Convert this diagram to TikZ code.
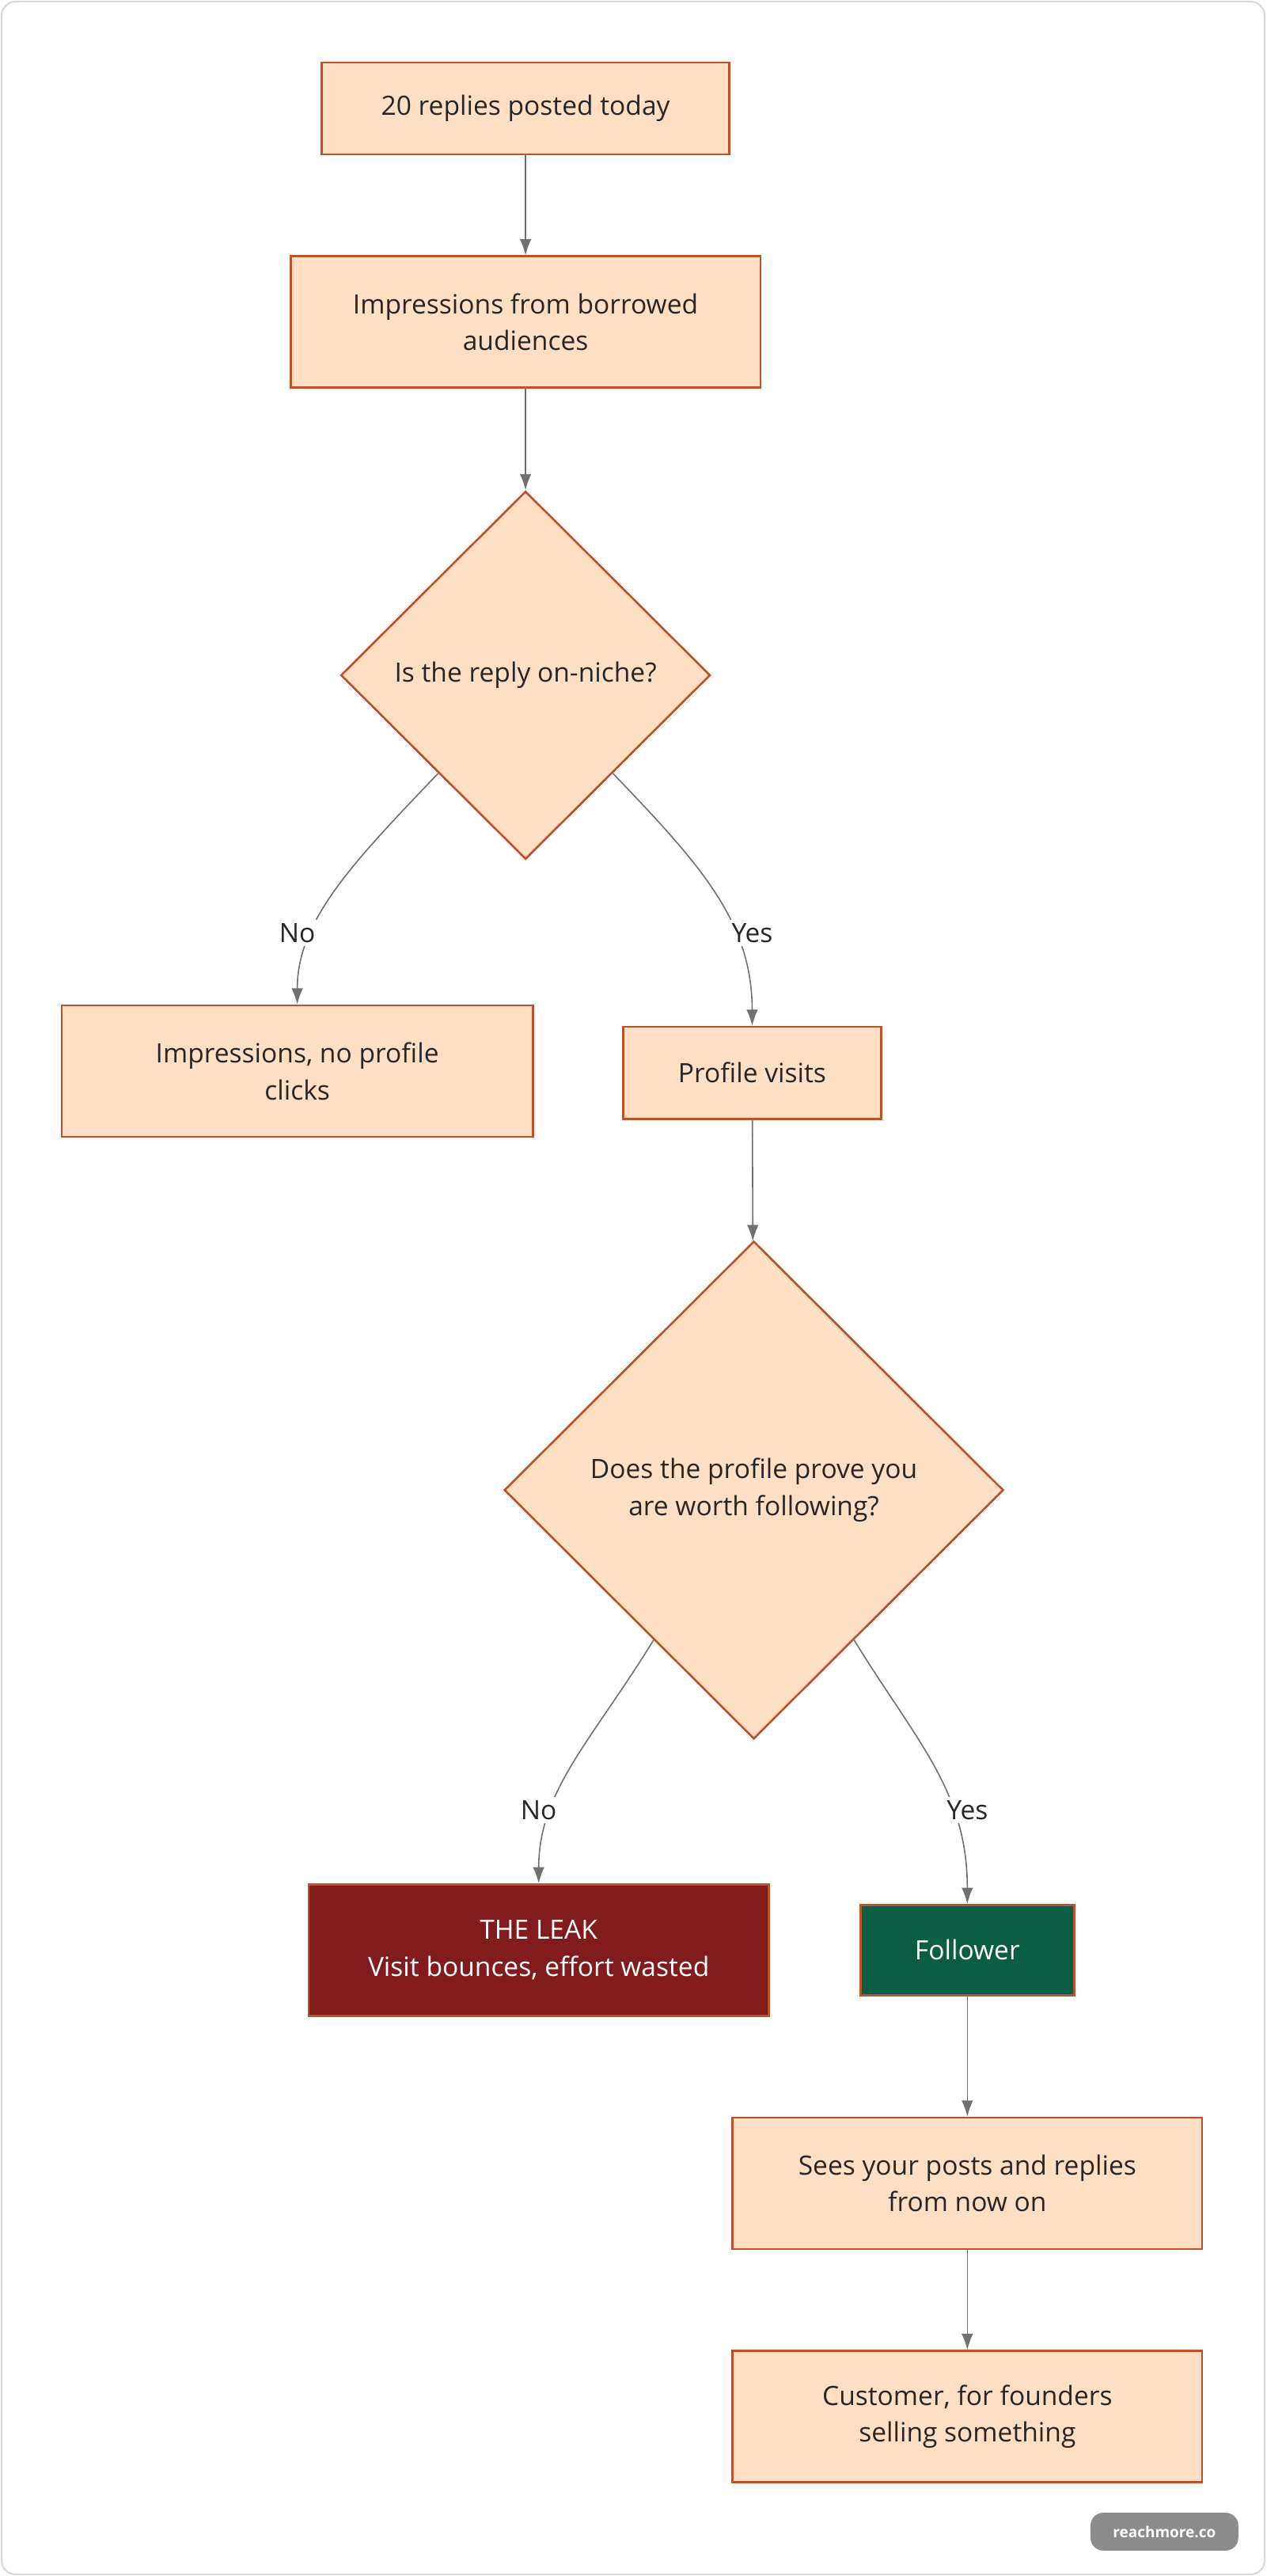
\documentclass[tikz,border=0pt]{standalone}
\usepackage{fontspec}
\setmainfont{Open Sans}
\usetikzlibrary{shapes.geometric,arrows.meta,calc}
\definecolor{boxfill}{HTML}{FFDFC4}
\definecolor{boxdraw}{HTML}{BE5128}
\definecolor{leak}{HTML}{821C1C}
\definecolor{foll}{HTML}{0B5E43}
\definecolor{arr}{HTML}{707070}
\begin{document}
\begin{tikzpicture}[x=0.05cm,y=-0.05cm,
  box/.style={draw=boxdraw,fill=boxfill,line width=1.8pt,align=center,inner sep=0pt,font=\fontsize{23}{32}\selectfont,text=black!85},
  dia/.style={box,diamond},
  arrow/.style={draw=arr,line width=1.1pt,-{Latex[length=14pt,width=10pt]}},
  lab/.style={fill=white,inner sep=3pt,font=\fontsize{23}{27}\selectfont,text=black!85}]
\useasboundingbox (0,0) rectangle (771,1568);
\draw[black!15,line width=1.5pt,rounded corners=12pt] (1,1) rectangle (770,1567);
\node[box,minimum width=12.4cm,minimum height=2.8cm] (n1) at (320,66) {20 replies posted today};
\node[box,minimum width=14.3cm,minimum height=4cm] (n2) at (320,196) {Impressions from borrowed\\audiences};
\node[dia,minimum width=11.25cm,minimum height=11.2cm] (d1) at (320,411) {Is the reply on-niche?};
\node[box,minimum width=14.35cm,minimum height=4cm] (n3) at (181,652) {Impressions, no profile\\clicks};
\node[box,minimum width=7.85cm,minimum height=2.8cm] (n4) at (458,653) {Profile visits};
\node[dia,minimum width=15.2cm,minimum height=15.15cm] (d2) at (459,907) {Does the profile prove you\\are worth following?};
\node[box,fill=leak,text=white,minimum width=14cm,minimum height=4cm] (lk) at (328,1187) {THE LEAK\\Visit bounces, effort wasted};
\node[box,fill=foll,text=white,minimum width=6.5cm,minimum height=2.75cm] (fo) at (589,1187) {Follower};
\node[box,minimum width=14.3cm,minimum height=4cm] (n5) at (589,1329) {Sees your posts and replies\\from now on};
\node[box,minimum width=14.3cm,minimum height=4cm] (n6) at (589,1471) {Customer, for founders\\selling something};
\node[fill=black!45,rounded corners=11pt,minimum width=4.5cm,minimum height=1.15cm,text=white,font=\bfseries\fontsize{13}{15}\selectfont] (bd) at (709,1541) {reachmore.co};
\draw[arrow] (n1) -- (n2);
\draw[arrow] (n2) -- (d1);
\draw[arrow] ($(d1.west)!0.53!(d1.south)$) .. controls (215,525) and (181,560) .. (n3.north);
\draw[arrow] ($(d1.east)!0.53!(d1.south)$) .. controls (425,525) and (458,560) .. (n4.north);
\node[lab] (l1) at (181,568) {No};
\node[lab] (l2) at (458,568) {Yes};
\draw[arrow] (n4) -- (d2);
\draw[arrow] ($(d2.west)!0.6!(d2.south)$) .. controls (360,1060) and (328,1090) .. (lk.north);
\draw[arrow] ($(d2.east)!0.6!(d2.south)$) .. controls (558,1060) and (589,1090) .. (fo.north);
\node[lab] (l3) at (328,1102) {No};
\node[lab] (l4) at (589,1102) {Yes};
\draw[arrow] (fo) -- (n5);
\draw[arrow] (n5) -- (n6);
\end{tikzpicture}
\end{document}
